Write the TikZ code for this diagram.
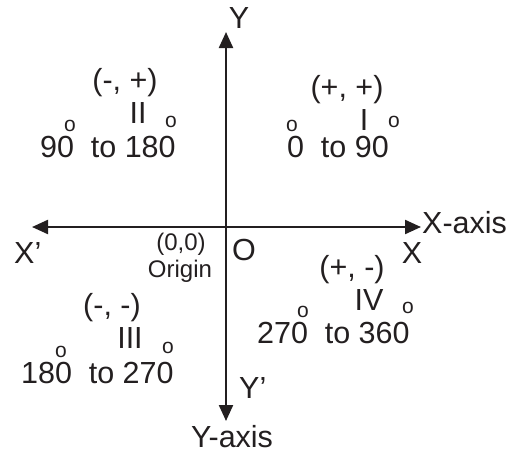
\documentclass[tikz,border=0pt]{standalone}
\usepackage{fontspec}
\setmainfont{Liberation Sans}
\usetikzlibrary{arrows.meta}
\definecolor{ink}{RGB}{35,31,32}
\tikzset{
  lbl/.style={inner sep=0pt, anchor=base, text=ink, font=\fontsize{30.5}{32}\selectfont},
  lblw/.style={lbl, anchor=base west},
  sml/.style={inner sep=0pt, anchor=base, text=ink, font=\fontsize{24}{26}\selectfont},
  deg/.style={inner sep=0pt, anchor=base, text=ink, font=\fontsize{21}{22}\selectfont},
  axis/.style={line width=2.2pt, draw=ink, -{Triangle[length=16pt,width=14pt]}},
}
\begin{document}
\begin{tikzpicture}[x=1pt,y=-1pt]
\useasboundingbox (0,0) rectangle (508,455);
% axes
\coordinate (o) at (226,227);
\coordinate (ytop) at (226,32);
\coordinate (ybot) at (226,421);
\coordinate (xleft) at (32,227);
\coordinate (xright) at (421,227);
\draw[axis] (o) -- (ytop);
\draw[axis] (o) -- (ybot);
\draw[axis] (o) -- (xleft);
\draw[axis] (o) -- (xright);
% axis labels
\node[lbl] (ylab) at (239,28) {Y};
\node[lblw] (xaxis) at (422,233) {X-axis};
\node[lblw] (xp) at (14,263) {X’};
\node[lbl] (xlab) at (412,263) {X};
\node[lbl] (olab) at (244,260) {O};
\node[sml] (zero) at (181,250) {(0,0)};
\node[sml] (origin) at (180,277) {Origin};
\node[lblw] (yp) at (239,398) {Y’};
\node[lbl] (yaxis) at (232,447) {Y-axis};
% quadrant I
\node[lbl] (s1) at (347,97) {(+, +)};
\node[lbl] (q1) at (364,130) {I};
\node[lblw] (r1) at (287,157) {0\hspace{0.55em}to 90};
\node[deg] (d1a) at (292,131) {o};
\node[deg] (d1b) at (394,127) {o};
% quadrant II
\node[lbl] (s2) at (125,90) {(-, +)};
\node[lbl] (q2) at (138,123) {II};
\node[lblw] (r2) at (40,157) {90\hspace{0.55em}to 180};
\node[deg] (d2a) at (70,131) {o};
\node[deg] (d2b) at (171,127) {o};
% quadrant III
\node[lbl] (s3) at (112,315) {(-, -)};
\node[lbl] (q3) at (130,348) {III};
\node[lblw] (r3) at (21,383) {180\hspace{0.55em}to 270};
\node[deg] (d3a) at (61,357) {o};
\node[deg] (d3b) at (168,353) {o};
% quadrant IV
\node[lbl] (s4) at (352,277) {(+, -)};
\node[lbl] (q4) at (369,310) {IV};
\node[lblw] (r4) at (257,343) {270\hspace{0.55em}to 360};
\node[deg] (d4a) at (303,317) {o};
\node[deg] (d4b) at (408,313) {o};
\end{tikzpicture}
\end{document}
